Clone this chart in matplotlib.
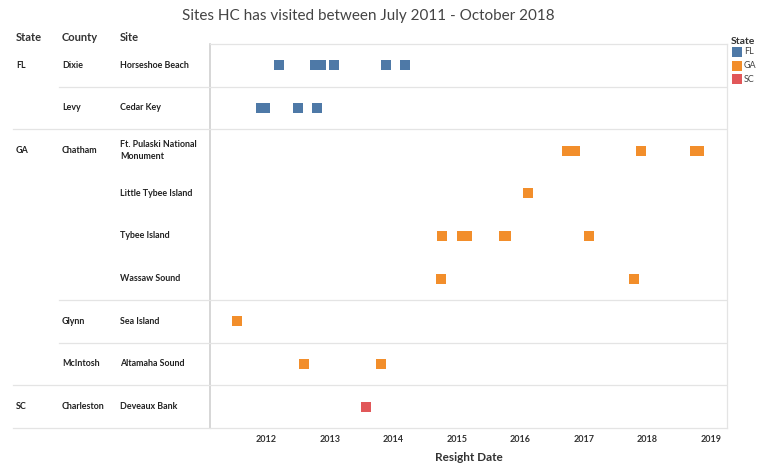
import matplotlib.pyplot as plt
from matplotlib.lines import Line2D

plt.rcParams['font.family'] = ['Lato', 'DejaVu Sans']

# Sites (top to bottom) with county / state grouping
site_names = ['Horseshoe Beach', 'Cedar Key', 'Ft. Pulaski National\nMonument',
              'Little Tybee Island', 'Tybee Island', 'Wassaw Sound',
              'Sea Island', 'Altamaha Sound', 'Deveaux Bank']
site_state = ['FL', 'FL', 'GA', 'GA', 'GA', 'GA', 'GA', 'GA', 'SC']
county_labels = [(0, 'Dixie'), (1, 'Levy'), (2, 'Chatham'), (6, 'Glynn'),
                 (7, 'McIntosh'), (8, 'Charleston')]
state_labels = [(0, 'FL'), (2, 'GA'), (8, 'SC')]

# Resight dates as decimal years
visits_horseshoe = [2012.20, 2012.76, 2012.85, 2013.07, 2013.88, 2014.18]
visits_cedar = [2011.92, 2011.97, 2012.49, 2012.79]
visits_pulaski = [2016.73, 2016.80, 2016.86, 2017.89, 2018.74, 2018.81]
visits_little_tybee = [2016.12]
visits_tybee = [2014.77, 2015.08, 2015.15, 2015.74, 2015.77, 2017.07]
visits_wassaw = [2014.75, 2017.78]
visits_sea_island = [2011.54]
visits_altamaha = [2012.59, 2013.81]
visits_deveaux = [2013.56]
visits = [visits_horseshoe, visits_cedar, visits_pulaski, visits_little_tybee,
          visits_tybee, visits_wassaw, visits_sea_island, visits_altamaha,
          visits_deveaux]

years = [2012, 2013, 2014, 2015, 2016, 2017, 2018, 2019]
colors = {'FL': '#4e79a7', 'GA': '#f28e2b', 'SC': '#e15759'}

W, H = 761, 467
fig = plt.figure(figsize=(W / 100, H / 100), dpi=100)

top, bottom = 44, 428
x_left, x_right = 210, 727
ax = fig.add_axes([x_left / W, 1 - bottom / H, (x_right - x_left) / W, (bottom - top) / H])
lab = fig.add_axes([13 / W, 1 - bottom / H, (x_left - 13) / W, (bottom - top) / H])

n = len(site_names)
for i, (dates, st) in enumerate(zip(visits, site_state)):
    ax.scatter(dates, [i + 0.5] * len(dates), marker='s', s=50, color=colors[st],
               linewidths=0, zorder=3)

ax.set_ylim(n, 0)
ax.set_xlim(2011.11, 2019.25)
ax.set_yticks([])
ax.set_xticks(years)
ax.set_xticklabels([str(y) for y in years], fontsize=6.5, fontweight='bold', color='#333333')
ax.tick_params(axis='x', length=0, pad=5)
for s in ['top', 'right', 'bottom']:
    ax.spines[s].set_color('#e4e4e4')
    ax.spines[s].set_linewidth(0.9)
ax.spines['left'].set_color('#d0d0d0')
ax.spines['left'].set_linewidth(1.2)
ax.set_xlabel('Resight Date', fontsize=8.5, fontweight='bold', color='#333333', labelpad=6)

# row separators
county_breaks = [1, 6, 7]
state_breaks = [2, 8]
for y in county_breaks + state_breaks:
    ax.axhline(y, color='#e4e4e4', lw=0.9, zorder=1)

lab.set_xlim(13, x_left)
lab.set_ylim(n, 0)
lab.axis('off')
for y in county_breaks:
    lab.plot([59, x_left], [y, y], color='#e4e4e4', lw=0.9, clip_on=False)
for y in state_breaks + [n]:
    lab.plot([13, x_left], [y, y], color='#e4e4e4', lw=0.9, clip_on=False)

for i, name in enumerate(site_names):
    lab.text(120, i + 0.5, name, fontsize=6.4, fontweight='bold', color='#222222',
             va='center', ha='left', linespacing=1.5)
for i, name in county_labels:
    lab.text(62, i + 0.5, name, fontsize=6.4, fontweight='bold', color='#222222',
             va='center', ha='left')
for i, name in state_labels:
    lab.text(16, i + 0.5, name, fontsize=6.4, fontweight='bold', color='#222222',
             va='center', ha='left')

hy = -0.15
for x, t in [(16, 'State'), (62, 'County'), (120, 'Site')]:
    lab.text(x, hy, t, fontsize=8, fontweight='bold', color='#333333',
             va='center', ha='left', clip_on=False)

fig.text(368 / W, 1 - 16 / H, 'Sites HC has visited between July 2011 - October 2018',
         fontsize=11, color='#444444', ha='center', va='center')

# legend
fig.text(731 / W, 1 - 41 / H, 'State', fontsize=7.5, fontweight='bold', color='#333333',
         ha='left', va='center')
for k, st in enumerate(['FL', 'GA', 'SC']):
    yy = 1 - (52 + 13.5 * k) / H
    fig.add_artist(Line2D([737 / W], [yy], marker='s', markersize=6.5, color=colors[st],
                          markeredgewidth=0, transform=fig.transFigure))
    fig.text(744 / W, yy, st, fontsize=6.5, color='#444444', ha='left', va='center')

fig.savefig('out.png', dpi=100, facecolor='white')
